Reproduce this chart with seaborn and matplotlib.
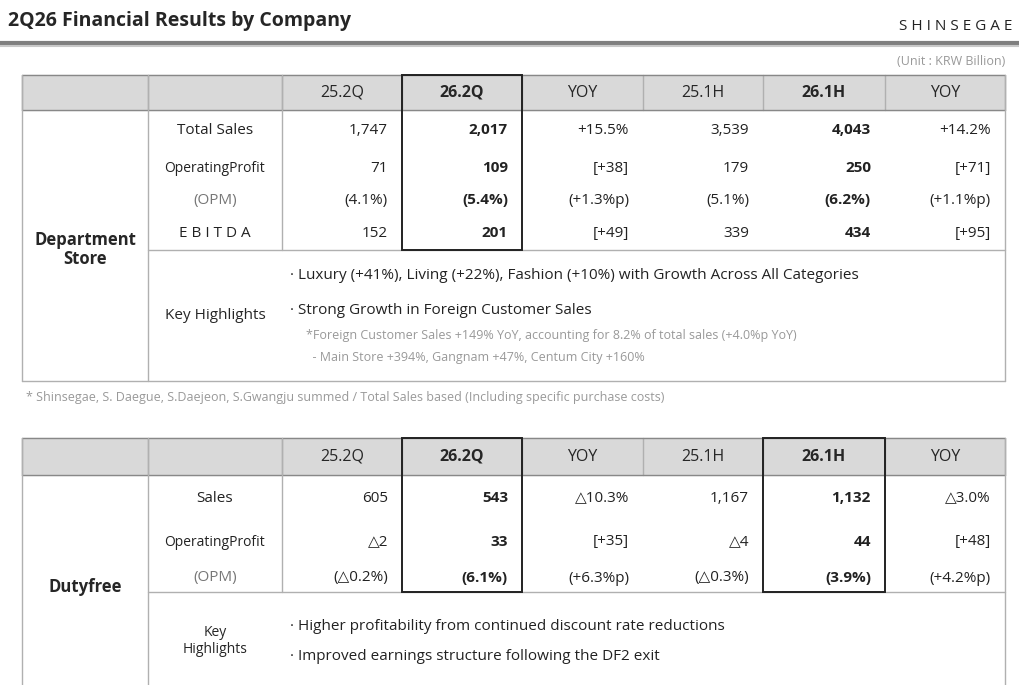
import matplotlib
matplotlib.use("Agg")
import matplotlib.pyplot as plt
import seaborn as sns
from matplotlib.patches import Rectangle

sns.set_theme(style="white")
plt.rcParams['font.family'] = ['Open Sans', 'DejaVu Sans']

# === Data ===
columns = ["25.2Q", "26.2Q", "YOY", "25.1H", "26.1H", "YOY"]
dept_metrics = ["Total Sales", "OperatingProfit", "(OPM)", "E B I T D A"]
dept_values = [
    ["1,747", "2,017", "+15.5%", "3,539", "4,043", "+14.2%"],
    ["71", "109", "[+38]", "179", "250", "[+71]"],
    ["(4.1%)", "(5.4%)", "(+1.3%p)", "(5.1%)", "(6.2%)", "(+1.1%p)"],
    ["152", "201", "[+49]", "339", "434", "[+95]"],
]
dept_highlights = [
    "· Luxury (+41%), Living (+22%), Fashion (+10%) with Growth Across All Categories",
    "· Strong Growth in Foreign Customer Sales",
]
dept_notes = [
    "*Foreign Customer Sales +149% YoY, accounting for 8.2% of total sales (+4.0%p YoY)",
    "  - Main Store +394%, Gangnam +47%, Centum City +160%",
]
duty_metrics = ["Sales", "OperatingProfit", "(OPM)"]
duty_values = [
    ["605", "543", "△10.3%", "1,167", "1,132", "△3.0%"],
    ["△2", "33", "[+35]", "△4", "44", "[+48]"],
    ["(△0.2%)", "(6.1%)", "(+6.3%p)", "(△0.3%)", "(3.9%)", "(+4.2%p)"],
]
duty_highlights = [
    "· Higher profitability from continued discount rate reductions",
    "· Improved earnings structure following the DF2 exit",
]

# === Layout (pixel coords) ===
xe = [22, 148, 282, 402, 522, 643, 763, 885, 1005]
bold_cols = [1, 4]
grid = "#b0b0b0"

fig = plt.figure(figsize=(10.2, 6.85), dpi=100)
ax = fig.add_axes([0, 0, 1, 1])
ax.set_xlim(0, 1020)
ax.set_ylim(685, 0)
ax.axis("off")

ax.text(8, 21, "2Q26 Financial Results by Company", fontsize=14, fontweight="bold", va="center")
ax.text(1012, 26, "S H I N S E G A E", fontsize=11, ha="right", va="center", color="#222222")
ax.plot([0, 1020], [43, 43], color="#7f7f7f", lw=3)
ax.plot([0, 1020], [45.5, 45.5], color="#c8c8c8", lw=1.5)
ax.text(1005, 61, "(Unit : KRW Billion)", fontsize=9, ha="right", va="center", color="#999999")


def hline(y, x0, x1, c=grid, lw=1):
    ax.plot([x0, x1], [y, y], color=c, lw=lw)


def vline(x, y0, y1, c=grid, lw=1):
    ax.plot([x, x], [y0, y1], color=c, lw=lw)


def draw_table(top, head_h, row_ys, row_end, bottom, label, metrics, values,
               box_cols, hl_label, hl_size, op_idx):
    ax.add_patch(Rectangle((xe[0], top), xe[-1] - xe[0], head_h, color="#d9d9d9", zorder=0))
    hy = top + head_h / 2
    for i, c in enumerate(columns):
        ax.text((xe[i + 2] + xe[i + 3]) / 2, hy, c, ha="center", va="center", fontsize=11.5,
                fontweight="bold" if i in bold_cols else "normal")
    for x in xe:
        vline(x, top, top + head_h)
    hline(top, xe[0], xe[-1], c="#888888")
    hline(top + head_h, xe[0], xe[-1], c="#888888")
    hline(row_end, xe[1], xe[-1])
    hline(bottom, xe[0], xe[-1])
    vline(xe[0], top, bottom)
    vline(xe[1], top, bottom)
    vline(xe[2], top, row_end)
    vline(xe[-1], top, bottom)
    ax.text((xe[0] + xe[1]) / 2, (top + head_h + bottom) / 2 + 4, label, ha="center", va="center",
            fontsize=12, fontweight="bold", linespacing=1.1)
    for r, (m, vals) in enumerate(zip(metrics, values)):
        y = row_ys[r]
        col = "#777777" if m == "(OPM)" else "#222222"
        ax.text((xe[1] + xe[2]) / 2, y, m, ha="center", va="center", color=col,
                fontsize=10 if r == op_idx else 11)
        for i, v in enumerate(vals):
            ax.text(xe[i + 3] - 14, y, v, ha="right", va="center", fontsize=11, color="#222222",
                    fontweight="bold" if i in bold_cols else "normal")
    for c in box_cols:
        ax.add_patch(Rectangle((xe[c + 2], top), xe[c + 3] - xe[c + 2], row_end - top,
                               fill=False, ec="#222222", lw=1.4, zorder=3))
    ax.text((xe[1] + xe[2]) / 2, (row_end + bottom) / 2, hl_label, ha="center", va="center",
            fontsize=hl_size, linespacing=1.2)


draw_table(75, 35, [130, 168, 200, 233], 250, 381, "Department\nStore",
           dept_metrics, dept_values, [1], "Key Highlights", 11, 1)
for i, t in enumerate(dept_highlights):
    ax.text(290, 275 + i * 35, t, fontsize=11, va="center", color="#222222")
for i, t in enumerate(dept_notes):
    ax.text(306, 335 + i * 22, t, fontsize=9, va="center", color="#999999")
ax.text(26, 397, "* Shinsegae, S. Daegue, S.Daejeon, S.Gwangju summed / Total Sales based (Including specific purchase costs)",
        fontsize=9, va="center", color="#999999")

draw_table(438, 37, [498, 542, 578], 592, 690, "Dutyfree",
           duty_metrics, duty_values, [1, 4], "Key\nHighlights", 10, 1)
for i, t in enumerate(duty_highlights):
    ax.text(290, 626 + i * 31, t, fontsize=11, va="center", color="#222222")

fig.savefig("out.png", dpi=100)
